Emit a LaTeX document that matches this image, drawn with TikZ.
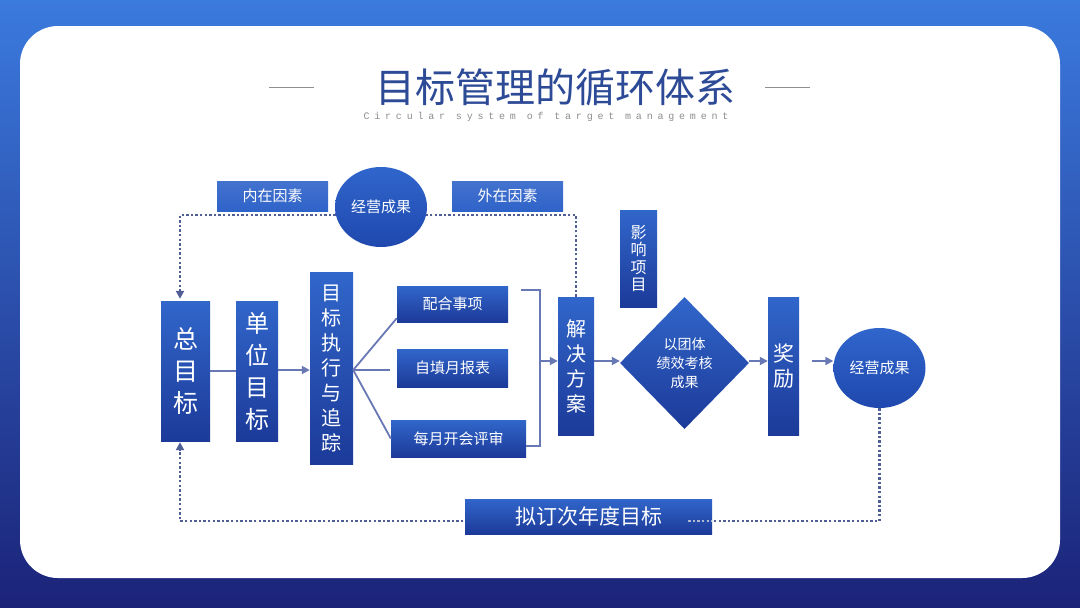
\documentclass[tikz,border=0pt]{standalone}
\usepackage{fontspec}
\newfontfamily\cjk{Noto Sans CJK SC}
\newfontfamily\entt{Liberation Mono}[LetterSpace=48]
\usepackage{xcolor}
\usepackage{tikz}
\usetikzlibrary{arrows.meta,calc,positioning,shapes.geometric}
\definecolor{bgtop}{HTML}{3B7ADE}
\definecolor{bgbot}{HTML}{1B2378}
\definecolor{boxtop}{HTML}{3166CA}
\definecolor{boxbot}{HTML}{1C3A99}
\definecolor{tagblue}{HTML}{2F63C9}
\definecolor{ovaltop}{HTML}{3066CC}
\definecolor{ovalbot}{HTML}{1F48AE}
\definecolor{flowcol}{HTML}{6878B4}
\definecolor{dotcol}{HTML}{4F5F96}
\definecolor{titleblue}{HTML}{2C4A96}
\definecolor{subgray}{HTML}{8E8E8E}
\newcommand{\fs}[2]{\fontsize{#1}{#2}\selectfont}
\pgfdeclarelayer{back}
\pgfdeclarelayer{wires}
\pgfsetlayers{back,wires,main}

\begin{document}
\begin{tikzpicture}[x=1pt,y=-1pt,
  box/.style={rectangle,top color=boxtop,bottom color=boxbot,text=white,inner sep=0pt,align=center},
  tag/.style={rectangle,top color=tagblue!90!white,bottom color=tagblue,text=white,inner sep=0pt,font=\cjk\fs{15}{15}},
  oval/.style={ellipse,top color=ovaltop,bottom color=ovalbot,text=white,inner sep=0pt,font=\cjk\fs{15}{15},minimum width=92pt,minimum height=80pt},
  flow/.style={draw=flowcol,line width=1.8pt},
  tip/.style={-{Triangle[length=8pt,width=8pt]}},
  dots/.style={draw=dotcol,line width=2.6pt,dash pattern=on 2.4pt off 2.2pt}]
  \useasboundingbox (0,0) rectangle (1080,608);
  \begin{pgfonlayer}{back}
    \shade[top color=bgtop,bottom color=bgbot] (0,0) rectangle (1080,608);
    \fill[white,rounded corners=38pt] (20,26) rectangle (1060,578);
  \end{pgfonlayer}

  % title
  \node[font=\cjk\fs{40}{40},text=titleblue] (title) at (555,87) {目标管理的循环体系};
  \node[font=\entt\fs{10}{10},text=subgray] (subtitle) at (546,117) {Circular system of target management};
  \draw[subgray,line width=0.7pt] (269,87) -- (314,87);
  \draw[subgray,line width=0.7pt] (765,87) -- (810,87);

  % top row
  \node[tag,minimum width=111pt,minimum height=30pt] (neizai) at (272.5,196) {内在因素};
  \node[tag,minimum width=111pt,minimum height=30pt] (waizai) at (507.5,196) {外在因素};
  \node[oval] (chengguo) at (381,207) {经营成果};

  % main flow
  \node[box,font=\cjk\fs{25}{32},minimum width=49pt,minimum height=140pt] (zong) at (185.5,371) {总\\目\\标};
  \node[box,font=\cjk\fs{24}{32},minimum width=42pt,minimum height=140pt] (danwei) at (257,371) {单\\位\\目\\标};
  \node[box,font=\cjk\fs{20}{25},minimum width=43pt,minimum height=192pt] (zhixing) at (331.5,368) {目\\标\\执\\行\\与\\追\\踪};
  \node[box,font=\cjk\fs{15}{15},minimum width=111pt,minimum height=36pt] (peihe) at (452.5,304) {配合事项};
  \node[box,font=\cjk\fs{15}{15},minimum width=111pt,minimum height=38pt] (zitian) at (452.5,368) {自填月报表};
  \node[box,font=\cjk\fs{15}{15},minimum width=135pt,minimum height=37pt] (meiyue) at (458.5,438.5) {每月开会评审};
  \node[box,font=\cjk\fs{20}{25},minimum width=36pt,minimum height=138pt] (jiejue) at (576,366) {解\\决\\方\\案};
  \node[box,font=\cjk\fs{16}{17.5},minimum width=37pt,minimum height=97pt] (yingxiang) at (638.5,258.5) {影\\响\\项\\目};
  \node[diamond,aspect=1,top color=boxtop,bottom color=boxbot,text=white,inner sep=0pt,align=center,
        font=\cjk\fs{14}{19},minimum width=129pt,minimum height=132pt] (jixiao) at (684.5,363) {以团体\\绩效考核\\成果};
  \node[box,font=\cjk\fs{21}{25},minimum width=31pt,minimum height=138pt] (jiangli) at (783.5,366) {奖\\励};
  \node[oval] (jieguo) at (879.5,368) {经营成果};
  \node[box,font=\cjk\fs{21}{21},minimum width=247pt,minimum height=35pt] (niding) at (588.5,516.5) {拟订次年度目标};

  \coordinate (row) at (0,361);
  \coordinate (brtop) at (521,290);
  \coordinate (brmid) at (540,361);
  \coordinate (looptop) at (180,215);
  \coordinate (loopbot) at (180,521);

  % connectors
  \draw[flow] (zong.east) -- (danwei.west);
  \draw[flow,tip] (danwei.east |- 0,370) -- (zhixing.west |- 0,370);
  \draw[flow] (zhixing.east |- 0,370) -- ([yshift=4pt]peihe.south west);
  \draw[flow] (zhixing.east |- 0,370) -- ([xshift=-7pt]zitian.west |- 0,370);
  \draw[flow] (zhixing.east |- 0,370) -- (meiyue.west);
  \draw[flow] (brtop) -| (brmid) |- ([yshift=-7.5pt]meiyue.east);
  \draw[flow,tip] (brmid) -- (jiejue.west |- row);
  \foreach \a/\b in {jiejue/jixiao,jixiao/jiangli}{
    \draw[flow,tip] (\a.east |- row) -- (\b.west |- row);
  }
  \draw[flow,tip] ($(jiangli.east |- row)+(13,0)$) -- (jieguo.west |- row);

  % loop back
  \begin{pgfonlayer}{wires}
    \draw[dots,tip,shorten >=2pt] (jiejue.north) |- (looptop) -- (looptop |- zong.north);
    \draw[dots,tip,shorten >=1pt] (jieguo.south) |- (loopbot) -- (loopbot |- zong.south);
  \end{pgfonlayer}
  \draw[dots,draw=white!55!dotcol] ([xshift=-24pt,yshift=-4.5pt]niding.east) -- ([yshift=-4.5pt]niding.east);
\end{tikzpicture}
\end{document}
